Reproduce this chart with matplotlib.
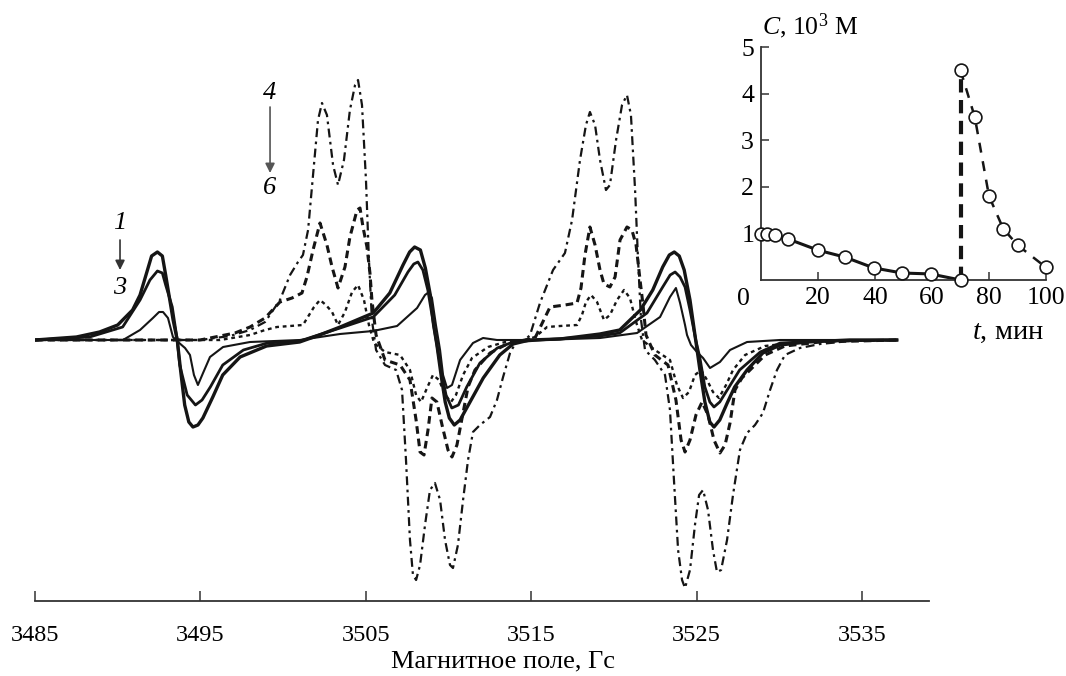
import matplotlib
matplotlib.use('Agg')
import matplotlib.pyplot as plt

plt.rcParams['font.family'] = ['Liberation Serif', 'DejaVu Serif']
plt.rcParams['mathtext.fontset'] = 'custom'
plt.rcParams['mathtext.rm'] = 'Liberation Serif'
plt.rcParams['mathtext.it'] = 'Liberation Serif:italic'

# EPR spectra, field in Gs, signal in arbitrary units
field_1 = [3485.0, 3487.5, 3488.9, 3490.0, 3490.9, 3491.35, 3491.8, 3492.05, 3492.4, 3492.7,
           3492.9, 3493.15, 3493.35, 3493.6, 3493.8, 3494.05, 3494.3, 3494.55, 3494.85, 3495.15,
           3495.75, 3496.35, 3497.4, 3499.0, 3501.0, 3502.2, 3503.45, 3505.45, 3506.45, 3507.25,
           3507.65, 3507.95, 3508.3, 3508.6, 3508.9, 3509.1, 3509.3, 3509.55, 3509.8, 3510.05,
           3510.35, 3510.7, 3511.3, 3512.1, 3513.1, 3513.9, 3514.9, 3516.75, 3519.15, 3520.35,
           3521.6, 3522.35, 3522.95, 3523.35, 3523.65, 3523.95, 3524.25, 3524.6, 3524.9, 3525.2,
           3525.5, 3525.8, 3526.05, 3526.4, 3526.85, 3527.3, 3528.05, 3529.0, 3530.05, 3531.65,
           3534.25, 3537.1]
sig_1 = [0, 3, 8, 15, 30, 45, 70, 84, 88, 84,
         65, 40, 20, 0, -30, -65, -82, -87, -85, -78,
         -57, -35, -17, -6, -2, 5, 13, 27, 47, 75,
         88, 93, 90, 72, 45, 15, -5, -35, -62, -78,
         -85, -80, -62, -38, -15, -4, 0, 1, 6, 10,
         30, 50, 73, 85, 88, 84, 70, 40, 5, -30,
         -62, -82, -87, -80, -63, -47, -30, -13, -5, -2,
         0, 0]

field_2 = [3485.0, 3488.3, 3490.3, 3491.35, 3491.95, 3492.4, 3492.7, 3492.9, 3493.3, 3493.6,
           3493.75, 3494.2, 3494.7, 3495.1, 3495.6, 3496.35, 3497.6, 3499.05, 3501.0, 3503.45,
           3505.45, 3506.75, 3507.55, 3507.9, 3508.15, 3508.45, 3508.75, 3509.05, 3509.3, 3509.55,
           3509.85, 3510.2, 3510.6, 3511.1, 3511.9, 3512.95, 3513.9, 3515.55, 3519.15, 3520.35,
           3522.0, 3522.95, 3523.4, 3523.7, 3524.0, 3524.3, 3524.6, 3524.95, 3525.2, 3525.5,
           3525.8, 3526.05, 3526.4, 3526.85, 3527.6, 3528.85, 3530.05, 3532.45, 3537.1]
sig_2 = [0, 3, 13, 40, 60, 69, 67, 55, 33, 0,
         -25, -55, -65, -60, -47, -25, -10, -3, -1, 12,
         23, 45, 68, 76, 78, 70, 50, 20, -5, -30,
         -55, -68, -65, -47, -23, -8, -2, 0, 4, 7,
         27, 53, 65, 68, 63, 53, 30, 0, -18, -47,
         -62, -67, -62, -50, -30, -12, -3, -1, 0]

field_3 = [3485.0, 3490.32, 3491.35, 3492.13, 3492.5, 3492.74, 3493.04, 3493.34, 3493.65, 3494.07,
           3494.37, 3494.61, 3494.85, 3495.16, 3495.58, 3496.37, 3498.0, 3501.02, 3503.44, 3505.44,
           3506.89, 3508.1, 3508.58, 3508.82, 3509.0, 3509.24, 3509.49, 3509.67, 3509.91, 3510.21,
           3510.7, 3511.48, 3512.09, 3512.93, 3515.53, 3519.16, 3521.4, 3522.79, 3523.39, 3523.75,
           3524.0, 3524.3, 3524.42, 3524.66, 3525.02, 3525.39, 3525.81, 3526.11, 3526.41, 3527.02,
           3528.05, 3530.04, 3537.12]
sig_3 = [0, 0, 10, 22, 28, 28, 22, 3, -2, -8,
         -15, -35, -45, -33, -17, -7, -2, 0, 6, 9,
         14, 32, 45, 48, 42, 15, -10, -35, -48, -45,
         -20, -3, 2, 0, 0, 2, 7, 23, 43, 52,
         37, 15, 5, -5, -12, -18, -28, -25, -22, -10,
         -2, 0, 0]

field_4 = [3485.0, 3494.98, 3495.88, 3496.79, 3498.0, 3498.91, 3499.81, 3500.42, 3500.9, 3501.2,
           3501.51, 3501.81, 3502.11, 3502.35, 3502.65, 3503.02, 3503.32, 3503.68, 3504.04, 3504.35,
           3504.53, 3504.77, 3505.01, 3505.19, 3505.37, 3505.62, 3506.16, 3506.83, 3507.19, 3507.43,
           3507.67, 3507.85, 3508.04, 3508.28, 3508.58, 3508.88, 3509.18, 3509.49, 3509.79, 3510.09,
           3510.27, 3510.57, 3510.88, 3511.18, 3511.48, 3511.9, 3512.51, 3512.93, 3513.3, 3513.72,
           3514.08, 3514.63, 3514.93, 3515.53, 3516.32, 3517.04, 3517.47, 3517.95, 3518.31, 3518.55,
           3518.86, 3519.16, 3519.52, 3519.76, 3520.13, 3520.49, 3520.79, 3521.03, 3521.28, 3521.46,
           3521.64, 3521.88, 3522.48, 3523.09, 3523.39, 3523.63, 3523.88, 3524.12, 3524.3, 3524.6,
           3524.9, 3525.15, 3525.39, 3525.69, 3525.99, 3526.23, 3526.48, 3526.84, 3527.2, 3527.62,
           3528.05, 3528.53, 3529.01, 3529.44, 3529.86, 3530.34, 3531.25, 3532.46, 3534.27, 3537.12]
sig_4 = [0, 0, 2, 4, 10, 18, 40, 65, 78, 85,
         110, 165, 220, 237, 225, 175, 155, 180, 230, 255,
         260, 235, 160, 80, 20, -10, -25, -30, -50, -120,
         -200, -235, -240, -225, -185, -150, -143, -160, -200, -225,
         -228, -205, -160, -120, -92, -85, -77, -60, -37, -13,
         -2, 0, 5, 37, 70, 87, 120, 180, 215, 228,
         215, 180, 150, 155, 200, 235, 245, 225, 150, 80,
         20, -10, -20, -35, -70, -140, -210, -240, -248, -230,
         -185, -155, -150, -170, -210, -232, -230, -200, -155, -110,
         -93, -85, -73, -50, -30, -15, -8, -4, -1, 0]

field_5 = [3485.0, 3494.98, 3497.09, 3498.0, 3498.91, 3499.81, 3500.54, 3501.14, 3501.44, 3501.81,
           3502.23, 3502.65, 3502.96, 3503.32, 3503.74, 3504.04, 3504.47, 3504.65, 3504.83, 3505.07,
           3505.25, 3505.37, 3505.62, 3506.16, 3507.07, 3507.67, 3508.04, 3508.28, 3508.52, 3508.76,
           3509.0, 3509.3, 3509.61, 3509.97, 3510.21, 3510.51, 3510.82, 3511.18, 3511.6, 3512.51,
           3513.42, 3514.32, 3515.23, 3516.14, 3517.04, 3517.77, 3518.01, 3518.25, 3518.55, 3518.86,
           3519.16, 3519.4, 3519.76, 3520.07, 3520.37, 3520.79, 3521.09, 3521.34, 3521.58, 3521.76,
           3521.94, 3522.48, 3523.27, 3523.75, 3524.06, 3524.3, 3524.6, 3524.96, 3525.33, 3525.69,
           3526.05, 3526.41, 3526.72, 3527.02, 3527.32, 3527.74, 3528.23, 3529.14, 3530.34, 3532.46,
           3537.12]
sig_5 = [0, 0, 7, 13, 22, 38, 42, 47, 63, 90,
         117, 95, 73, 52, 73, 103, 130, 132, 113, 93,
         67, 40, 5, -20, -25, -40, -80, -112, -115, -90,
         -58, -62, -85, -110, -117, -105, -78, -47, -30, -13,
         -5, -1, 2, 33, 35, 37, 52, 85, 113, 95,
         70, 56, 53, 63, 100, 113, 110, 95, 60, 35,
         5, -15, -25, -60, -100, -112, -100, -75, -62, -75,
         -100, -113, -105, -83, -50, -38, -30, -15, -6, -2,
         0]

field_6 = [3485.0, 3496.19, 3498.0, 3498.91, 3499.63, 3500.42, 3501.2, 3501.57, 3501.87, 3502.23,
           3502.59, 3502.96, 3503.32, 3503.74, 3504.17, 3504.53, 3504.89, 3505.19, 3505.5, 3506.16,
           3507.07, 3507.67, 3508.04, 3508.34, 3508.7, 3509.06, 3509.43, 3509.79, 3510.15, 3510.45,
           3510.88, 3511.42, 3512.39, 3513.42, 3514.63, 3515.23, 3515.96, 3516.74, 3517.77, 3518.07,
           3518.31, 3518.62, 3518.98, 3519.4, 3519.76, 3520.19, 3520.61, 3520.97, 3521.34, 3521.7,
           3522.48, 3523.39, 3523.81, 3524.18, 3524.54, 3524.9, 3525.27, 3525.63, 3525.99, 3526.35,
           3526.78, 3527.2, 3527.93, 3529.14, 3531.25, 3537.12]
sig_6 = [0, 0, 5, 10, 13, 14, 15, 25, 33, 40,
         35, 28, 15, 28, 48, 55, 40, 15, -3, -12,
         -15, -30, -55, -62, -48, -35, -40, -55, -62, -55,
         -35, -18, -7, -2, 0, 3, 13, 14, 15, 25,
         38, 45, 38, 20, 25, 40, 50, 42, 18, 0,
         -10, -20, -45, -58, -52, -35, -30, -40, -52, -58,
         -45, -30, -15, -6, -2, 0]

field_ticks = [3485, 3495, 3505, 3515, 3525, 3535]

# inset: concentration vs time
t_decay = [0, 2, 5, 9.5, 20, 29.5, 39.5, 49.5, 59.5, 70]
c_decay = [0.99, 0.99, 0.96, 0.88, 0.64, 0.49, 0.26, 0.15, 0.13, 0.0]
t_after = [70, 75, 80, 85, 90, 100]
c_after = [4.5, 3.5, 1.8, 1.1, 0.75, 0.27]

W, H = 1066, 676
fig = plt.figure(figsize=(W / 100, H / 100), dpi=100)

ax = fig.add_axes([35 / W, 1 - 601 / H, (929 - 35) / W, 601 / H])
ax.set_facecolor('none')

ink = '#151515'
ax.plot(field_1, sig_1, color=ink, lw=2.4, solid_joinstyle='round')
ax.plot(field_2, sig_2, color=ink, lw=2.0, solid_joinstyle='round')
ax.plot(field_3, sig_3, color=ink, lw=1.5, solid_joinstyle='round')
ax.plot(field_4, sig_4, color=ink, lw=1.6, dashes=(4, 2, 1.2, 2))
ax.plot(field_5, sig_5, color=ink, lw=2.2, dashes=(2.5, 1.6))
ax.plot(field_6, sig_6, color=ink, lw=1.7, dashes=(1.6, 1.6))

ax.set_xlim(3485, 3539.05)
ax.set_ylim(-261, 340)
for s in ['top', 'right', 'left']:
    ax.spines[s].set_visible(False)
ax.spines['bottom'].set_linewidth(1.3)
ax.spines['bottom'].set_color('#333333')
ax.set_yticks([])
ax.set_xticks(field_ticks)
ax.tick_params(axis='x', direction='in', length=7.5, width=1.1, color='#333333',
               labelsize=17.5, pad=17)
ax.set_xlabel('Магнитное поле, Гс', fontsize=19)
ax.xaxis.set_label_coords(0.5235, -0.083)

# curve numbers
ax.text(3490.14, 117, '1', fontsize=19, style='italic', ha='center', va='center')
ax.text(3490.14, 52, '3', fontsize=19, style='italic', ha='center', va='center')
ax.annotate('', xy=(3490.14, 70), xytext=(3490.14, 100),
            arrowprops=dict(arrowstyle='-|>', color='#333333', lw=1.2,
                            mutation_scale=14, shrinkA=0, shrinkB=0))
ax.text(3499.21, 247, '4', fontsize=19, style='italic', ha='center', va='center')
ax.text(3499.21, 152, '6', fontsize=19, style='italic', ha='center', va='center')
ax.annotate('', xy=(3499.21, 167), xytext=(3499.21, 233),
            arrowprops=dict(arrowstyle='-|>', color='#555555', lw=1.2,
                            mutation_scale=14, shrinkA=0, shrinkB=0))

# inset
ax_in = fig.add_axes([761 / W, 1 - 280 / H, 285 / W, 233 / H])
ax_in.set_facecolor('none')
ax_in.plot(t_decay, c_decay, color=ink, lw=2.2, zorder=2, clip_on=False)
ax_in.plot([t_after[0], t_after[0]], [c_decay[-1], c_after[0]], color=ink, lw=3,
           dashes=(3.2, 1.8), zorder=2, clip_on=False)
ax_in.plot(t_after, c_after, color=ink, lw=1.8, dashes=(4, 3.5), zorder=2, clip_on=False)
ax_in.plot(t_decay, c_decay, 'o', ms=9.2, mfc='white', mec=ink, mew=1.2, zorder=3, clip_on=False)
ax_in.plot(t_after, c_after, 'o', ms=9.2, mfc='white', mec=ink, mew=1.2, zorder=3, clip_on=False)

ax_in.set_xlim(0, 100)
ax_in.set_ylim(0, 5)
for s in ['top', 'right']:
    ax_in.spines[s].set_visible(False)
for s in ['left', 'bottom']:
    ax_in.spines[s].set_linewidth(1.3)
    ax_in.spines[s].set_color('#333333')
ax_in.set_xticks([20, 40, 60, 80, 100])
ax_in.set_yticks([1, 2, 3, 4, 5])
ax_in.tick_params(direction='in', length=6, width=1.1, color='#333333', labelsize=18.5, pad=5)
ax_in.annotate('0', xy=(0, 0), xytext=(-13, -14), textcoords='offset points',
               ha='center', va='center', fontsize=18.5)

fig.text(762 / W, 1 - 26 / H, r'$\it{C}$, 10$^3$ M', fontsize=18.5, ha='left', va='center')
fig.text(1008 / W, 1 - 332 / H, r'$\it{t}$, мин', fontsize=20.5, ha='center', va='center')

fig.savefig('out.png', dpi=100)
